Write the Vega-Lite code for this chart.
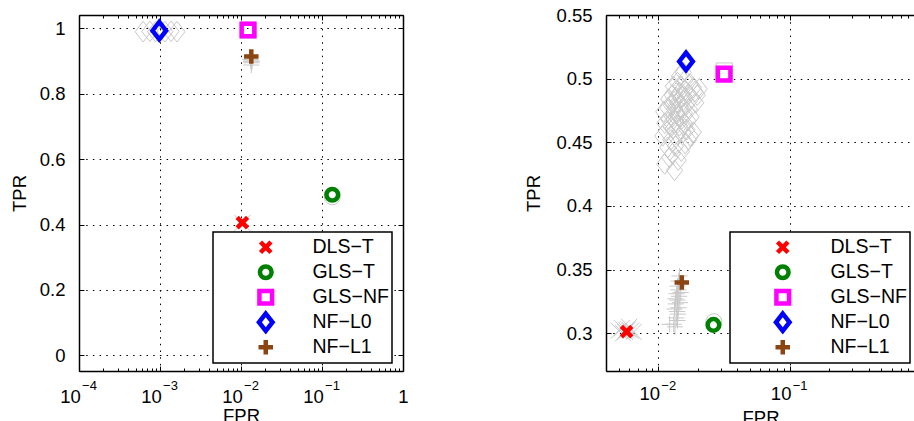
{
  "$schema": "https://vega.github.io/schema/vega-lite/v6.json",
  "padding": {"left": 10, "top": 6, "right": 0, "bottom": 0},
  "spacing": 115,
  "config": {
    "font": "Liberation Sans",
    "view": {"stroke": null},
    "axis": {
      "labelFont": "Liberation Sans", "titleFont": "Liberation Sans",
      "labelFontSize": 18.5, "titleFontSize": 18.5, "titleFontWeight": "normal",
      "labelColor": "black", "titleColor": "black",
      "domainColor": "black", "domainWidth": 1.5,
      "tickColor": "black", "tickWidth": 1,
      "gridColor": "black", "gridDash": [1.5, 5.2], "gridOpacity": 1, "gridWidth": 1,
      "labelFlush": false, "labelOverlap": false, "labelBound": false
    },
    "legend": {"strokeWidth": 1.5}
  },
  "resolve": {"scale": {"x": "independent", "y": "independent", "color": "independent", "shape": "independent", "size": "independent"}},
  "datasets": {
    "leftMain": [
      {"method": "DLS−T", "FPR": 0.0104, "TPR": 0.406},
      {"method": "GLS−T", "FPR": 0.134, "TPR": 0.491},
      {"method": "GLS−NF", "FPR": 0.0122, "TPR": 0.995},
      {"method": "NF−L0", "FPR": 0.00098, "TPR": 0.993},
      {"method": "NF−L1", "FPR": 0.0134, "TPR": 0.914}
    ],
    "leftGray": [
      {"method": "NF−L0", "FPR": 0.00062, "TPR": 0.99},
      {"method": "NF−L0", "FPR": 0.00075, "TPR": 0.991},
      {"method": "NF−L0", "FPR": 0.00088, "TPR": 0.99},
      {"method": "NF−L0", "FPR": 0.00115, "TPR": 0.99},
      {"method": "NF−L0", "FPR": 0.00137, "TPR": 0.991},
      {"method": "NF−L0", "FPR": 0.00162, "TPR": 0.99},
      {"method": "NF−L1", "FPR": 0.0133, "TPR": 0.9},
      {"method": "NF−L1", "FPR": 0.0135, "TPR": 0.895},
      {"method": "NF−L1", "FPR": 0.0131, "TPR": 0.905},
      {"method": "NF−L1", "FPR": 0.0137, "TPR": 0.9},
      {"method": "NF−L1", "FPR": 0.0134, "TPR": 0.888},
      {"method": "GLS−T", "FPR": 0.134, "TPR": 0.485},
      {"method": "GLS−NF", "FPR": 0.0123, "TPR": 0.995},
      {"method": "DLS−T", "FPR": 0.0104, "TPR": 0.405}
    ],
    "rightMain": [
      {"method": "DLS−T", "FPR": 0.00574, "TPR": 0.3013},
      {"method": "GLS−T", "FPR": 0.0263, "TPR": 0.3065},
      {"method": "GLS−NF", "FPR": 0.0317, "TPR": 0.5036},
      {"method": "NF−L0", "FPR": 0.01626, "TPR": 0.5135},
      {"method": "NF−L1", "FPR": 0.0151, "TPR": 0.3398}
    ],
    "rightGray": [
      {"method": "NF−L0", "FPR": 0.0112, "TPR": 0.433},
      {"method": "NF−L0", "FPR": 0.0122, "TPR": 0.438},
      {"method": "NF−L0", "FPR": 0.0133, "TPR": 0.428},
      {"method": "NF−L0", "FPR": 0.0128, "TPR": 0.441},
      {"method": "NF−L0", "FPR": 0.0142, "TPR": 0.436},
      {"method": "NF−L0", "FPR": 0.0118, "TPR": 0.446},
      {"method": "NF−L0", "FPR": 0.0135, "TPR": 0.447},
      {"method": "NF−L0", "FPR": 0.015, "TPR": 0.443},
      {"method": "NF−L0", "FPR": 0.016, "TPR": 0.449},
      {"method": "NF−L0", "FPR": 0.017, "TPR": 0.452},
      {"method": "NF−L0", "FPR": 0.0175, "TPR": 0.455},
      {"method": "NF−L0", "FPR": 0.0108, "TPR": 0.455},
      {"method": "NF−L0", "FPR": 0.0115, "TPR": 0.459},
      {"method": "NF−L0", "FPR": 0.0125, "TPR": 0.452},
      {"method": "NF−L0", "FPR": 0.013, "TPR": 0.461},
      {"method": "NF−L0", "FPR": 0.014, "TPR": 0.456},
      {"method": "NF−L0", "FPR": 0.0145, "TPR": 0.463},
      {"method": "NF−L0", "FPR": 0.0155, "TPR": 0.458},
      {"method": "NF−L0", "FPR": 0.0165, "TPR": 0.46},
      {"method": "NF−L0", "FPR": 0.0185, "TPR": 0.458},
      {"method": "NF−L0", "FPR": 0.0112, "TPR": 0.465},
      {"method": "NF−L0", "FPR": 0.012, "TPR": 0.468},
      {"method": "NF−L0", "FPR": 0.0128, "TPR": 0.47},
      {"method": "NF−L0", "FPR": 0.0136, "TPR": 0.466},
      {"method": "NF−L0", "FPR": 0.0143, "TPR": 0.471},
      {"method": "NF−L0", "FPR": 0.015, "TPR": 0.468},
      {"method": "NF−L0", "FPR": 0.0158, "TPR": 0.473},
      {"method": "NF−L0", "FPR": 0.0168, "TPR": 0.467},
      {"method": "NF−L0", "FPR": 0.0178, "TPR": 0.47},
      {"method": "NF−L0", "FPR": 0.011, "TPR": 0.474},
      {"method": "NF−L0", "FPR": 0.0118, "TPR": 0.477},
      {"method": "NF−L0", "FPR": 0.0126, "TPR": 0.479},
      {"method": "NF−L0", "FPR": 0.0133, "TPR": 0.476},
      {"method": "NF−L0", "FPR": 0.014, "TPR": 0.481},
      {"method": "NF−L0", "FPR": 0.0148, "TPR": 0.478},
      {"method": "NF−L0", "FPR": 0.0155, "TPR": 0.483},
      {"method": "NF−L0", "FPR": 0.0162, "TPR": 0.479},
      {"method": "NF−L0", "FPR": 0.0172, "TPR": 0.476},
      {"method": "NF−L0", "FPR": 0.012, "TPR": 0.484},
      {"method": "NF−L0", "FPR": 0.0128, "TPR": 0.487},
      {"method": "NF−L0", "FPR": 0.0137, "TPR": 0.485},
      {"method": "NF−L0", "FPR": 0.0145, "TPR": 0.489},
      {"method": "NF−L0", "FPR": 0.0152, "TPR": 0.486},
      {"method": "NF−L0", "FPR": 0.016, "TPR": 0.491},
      {"method": "NF−L0", "FPR": 0.017, "TPR": 0.488},
      {"method": "NF−L0", "FPR": 0.018, "TPR": 0.485},
      {"method": "NF−L0", "FPR": 0.019, "TPR": 0.49},
      {"method": "NF−L0", "FPR": 0.0198, "TPR": 0.487},
      {"method": "NF−L0", "FPR": 0.0205, "TPR": 0.492},
      {"method": "NF−L0", "FPR": 0.013, "TPR": 0.494},
      {"method": "NF−L0", "FPR": 0.014, "TPR": 0.497},
      {"method": "NF−L0", "FPR": 0.015, "TPR": 0.494},
      {"method": "NF−L0", "FPR": 0.016, "TPR": 0.499},
      {"method": "NF−L0", "FPR": 0.0175, "TPR": 0.496},
      {"method": "NF−L0", "FPR": 0.0185, "TPR": 0.493},
      {"method": "NF−L0", "FPR": 0.0145, "TPR": 0.502},
      {"method": "NF−L0", "FPR": 0.0155, "TPR": 0.505},
      {"method": "NF−L0", "FPR": 0.0135, "TPR": 0.49},
      {"method": "NF−L0", "FPR": 0.0125, "TPR": 0.462},
      {"method": "NF−L0", "FPR": 0.0138, "TPR": 0.472},
      {"method": "NF−L0", "FPR": 0.0147, "TPR": 0.475},
      {"method": "NF−L0", "FPR": 0.0132, "TPR": 0.482},
      {"method": "NF−L0", "FPR": 0.0158, "TPR": 0.465},
      {"method": "NF−L0", "FPR": 0.0193, "TPR": 0.481},
      {"method": "NF−L1", "FPR": 0.0145, "TPR": 0.345},
      {"method": "NF−L1", "FPR": 0.0143, "TPR": 0.341},
      {"method": "NF−L1", "FPR": 0.014, "TPR": 0.337},
      {"method": "NF−L1", "FPR": 0.0142, "TPR": 0.334},
      {"method": "NF−L1", "FPR": 0.0138, "TPR": 0.331},
      {"method": "NF−L1", "FPR": 0.0144, "TPR": 0.329},
      {"method": "NF−L1", "FPR": 0.014, "TPR": 0.326},
      {"method": "NF−L1", "FPR": 0.0136, "TPR": 0.323},
      {"method": "NF−L1", "FPR": 0.0142, "TPR": 0.32},
      {"method": "NF−L1", "FPR": 0.0139, "TPR": 0.317},
      {"method": "NF−L1", "FPR": 0.0141, "TPR": 0.315},
      {"method": "NF−L1", "FPR": 0.0137, "TPR": 0.312},
      {"method": "NF−L1", "FPR": 0.014, "TPR": 0.31},
      {"method": "NF−L1", "FPR": 0.0135, "TPR": 0.327},
      {"method": "NF−L1", "FPR": 0.0146, "TPR": 0.324},
      {"method": "NF−L1", "FPR": 0.0133, "TPR": 0.319},
      {"method": "NF−L1", "FPR": 0.0148, "TPR": 0.332},
      {"method": "NF−L1", "FPR": 0.0131, "TPR": 0.307},
      {"method": "NF−L1", "FPR": 0.0122, "TPR": 0.307},
      {"method": "NF−L1", "FPR": 0.0134, "TPR": 0.305},
      {"method": "DLS−T", "FPR": 0.005, "TPR": 0.302},
      {"method": "DLS−T", "FPR": 0.0053, "TPR": 0.304},
      {"method": "DLS−T", "FPR": 0.0056, "TPR": 0.301},
      {"method": "DLS−T", "FPR": 0.0059, "TPR": 0.303},
      {"method": "DLS−T", "FPR": 0.0062, "TPR": 0.302},
      {"method": "DLS−T", "FPR": 0.0065, "TPR": 0.301},
      {"method": "DLS−T", "FPR": 0.0054, "TPR": 0.3},
      {"method": "DLS−T", "FPR": 0.006, "TPR": 0.305},
      {"method": "DLS−T", "FPR": 0.0057, "TPR": 0.3025},
      {"method": "GLS−T", "FPR": 0.0265, "TPR": 0.309},
      {"method": "GLS−NF", "FPR": 0.0318, "TPR": 0.506}
    ]
  },
  "hconcat": [
    {
      "width": 324,
      "height": 356,
      "resolve": {"axis": {"x": "independent", "y": "independent"}},
      "layer": [
        {
          "data": {"name": "leftGray"},
          "mark": {"type": "point", "filled": false, "color": "#c8c8c8", "strokeWidth": 1, "size": 260, "opacity": 1},
          "encoding": {
            "x": {"field": "FPR", "type": "quantitative", "scale": {"type": "log", "domain": [0.0001, 1], "nice": false},
              "axis": {"orient": "bottom", "title": "FPR", "values": [0.0001, 0.001, 0.01, 0.1, 1],
                "labelExpr": "datum.value >= 0.5 ? '1' : '10'",
                "labelOffset": {"condition": {"test": "datum.value < 0.5", "value": -9}, "value": 0},
                "ticks": false, "domain": true, "grid": true, "labelPadding": 16, "titlePadding": 1}},
            "y": {"field": "TPR", "type": "quantitative", "scale": {"domain": [-0.048, 1.041], "nice": false, "zero": false},
              "axis": {"orient": "left", "title": "TPR", "values": [0, 0.2, 0.4, 0.6, 0.8, 1], "format": "~g",
                "ticks": false, "domain": true, "grid": true, "labelPadding": 14, "titlePadding": 10}},
            "shape": {"field": "method", "type": "nominal",
              "scale": {"domain": ["DLS−T", "GLS−T", "GLS−NF", "NF−L0", "NF−L1"], "range": ["M-1,-1L1,1M1,-1L-1,1", "circle", "square", "M0,-1.28L1,0L0,1.28L-1,0Z", "M-1,0L1,0M0,-1L0,1"]}}
          }
        },
        {
          "data": {"name": "leftMain"},
          "mark": {"type": "point", "filled": false, "strokeWidth": 4.5, "opacity": 1},
          "encoding": {
            "x": {"field": "FPR", "type": "quantitative", "scale": {"type": "log", "domain": [0.0001, 1], "nice": false},
              "axis": {"orient": "top", "title": null, "labels": false, "grid": false, "domain": true,
                "values": [0.0001, 0.0002, 0.0003, 0.0004, 0.0005, 0.0006, 0.0007, 0.0008, 0.0009, 0.001, 0.002, 0.003, 0.004, 0.005, 0.006, 0.007, 0.008, 0.009, 0.01, 0.02, 0.03, 0.04, 0.05, 0.06, 0.07, 0.08, 0.09, 0.1, 0.2, 0.3, 0.4, 0.5, 0.6, 0.7, 0.8, 0.9, 1],
                "tickSize": {"condition": {"test": "abs(log(datum.value)/LN10 - round(log(datum.value)/LN10)) < 0.001", "value": -5}, "value": -3}}},
            "y": {"field": "TPR", "type": "quantitative", "scale": {"domain": [-0.048, 1.041], "nice": false, "zero": false},
              "axis": {"orient": "right", "title": null, "labels": false, "grid": false, "domain": true, "values": [0, 0.2, 0.4, 0.6, 0.8, 1], "tickSize": -5}},
            "color": {"field": "method", "type": "nominal",
              "scale": {"domain": ["DLS−T", "GLS−T", "GLS−NF", "NF−L0", "NF−L1"], "range": ["#ff0000", "#008000", "#ff00ff", "#0000ff", "#8b4513"]},
              "legend": {"orient": "none", "legendX": 134, "legendY": 217, "title": null, "fillColor": "white", "strokeColor": "black",
                "padding": 3, "symbolOffset": 40, "labelOffset": 37, "labelFontSize": 19.5, "labelFont": "Liberation Sans", "labelColor": "black",
                "symbolStrokeWidth": 4.5, "rowPadding": 0, "clipHeight": 24.5, "gridAlign": "all", "labelLimit": 0}},
            "shape": {"field": "method", "type": "nominal",
              "scale": {"domain": ["DLS−T", "GLS−T", "GLS−NF", "NF−L0", "NF−L1"], "range": ["M-1,-1L1,1M1,-1L-1,1", "circle", "square", "M0,-1.28L1,0L0,1.28L-1,0Z", "M-1,0L1,0M0,-1L0,1"]}},
            "size": {"field": "method", "type": "nominal",
              "scale": {"domain": ["DLS−T", "GLS−T", "GLS−NF", "NF−L0", "NF−L1"], "range": [110, 210, 150, 265, 200]}}
          }
        },
        {
          "data": {"name": "leftMain"},
          "mark": {"type": "point", "opacity": 0},
          "encoding": {
            "x": {"field": "FPR", "type": "quantitative", "scale": {"type": "log", "domain": [0.0001, 1], "nice": false},
              "axis": {"orient": "bottom", "title": null, "labels": false, "grid": false, "domain": false,
                "values": [0.0001, 0.0002, 0.0003, 0.0004, 0.0005, 0.0006, 0.0007, 0.0008, 0.0009, 0.001, 0.002, 0.003, 0.004, 0.005, 0.006, 0.007, 0.008, 0.009, 0.01, 0.02, 0.03, 0.04, 0.05, 0.06, 0.07, 0.08, 0.09, 0.1, 0.2, 0.3, 0.4, 0.5, 0.6, 0.7, 0.8, 0.9, 1],
                "tickSize": {"condition": {"test": "abs(log(datum.value)/LN10 - round(log(datum.value)/LN10)) < 0.001", "value": -5}, "value": -3}}},
            "y": {"field": "TPR", "type": "quantitative", "scale": {"domain": [-0.048, 1.041], "nice": false, "zero": false},
              "axis": {"orient": "left", "title": null, "labels": false, "grid": false, "domain": false, "values": [0, 0.2, 0.4, 0.6, 0.8, 1], "tickSize": -5}}
          }
        },
        {
          "data": {"name": "leftMain"},
          "mark": {"type": "point", "opacity": 0},
          "encoding": {
            "x": {"field": "FPR", "type": "quantitative", "scale": {"type": "log", "domain": [0.0001, 1], "nice": false},
              "axis": {"orient": "bottom", "title": null, "ticks": false, "grid": false, "domain": false,
                "values": [0.0001, 0.001, 0.01, 0.1],
                "labelExpr": "datum.value >= 0.05 ? '−1' : datum.value >= 0.005 ? '−2' : datum.value >= 0.0005 ? '−3' : '−4'",
                "labelFontSize": 13, "labelOffset": 10, "labelPadding": 8}},
            "y": {"field": "TPR", "type": "quantitative", "scale": {"domain": [-0.048, 1.041], "nice": false, "zero": false}, "axis": null}
          }
        }
      ]
    },
    {
      "width": 309,
      "height": 356,
      "resolve": {"axis": {"x": "independent", "y": "independent"}},
      "layer": [
        {
          "data": {"name": "rightGray"},
          "mark": {"type": "point", "filled": false, "color": "#c8c8c8", "strokeWidth": 1, "size": 260, "opacity": 1},
          "encoding": {
            "x": {"field": "FPR", "type": "quantitative", "scale": {"type": "log", "domain": [0.004, 0.9], "nice": false},
              "axis": {"orient": "bottom", "title": "FPR", "values": [0.01, 0.1],
                "labelExpr": "'10'", "labelOffset": -9,
                "ticks": false, "domain": true, "grid": true, "labelPadding": 13, "titlePadding": 6}},
            "y": {"field": "TPR", "type": "quantitative", "scale": {"domain": [0.2703, 0.55], "nice": false, "zero": false},
              "axis": {"orient": "left", "title": "TPR", "values": [0.3, 0.35, 0.4, 0.45, 0.5, 0.55], "format": "~g",
                "ticks": false, "domain": true, "grid": true, "labelPadding": 14, "titlePadding": 12}},
            "shape": {"field": "method", "type": "nominal",
              "scale": {"domain": ["DLS−T", "GLS−T", "GLS−NF", "NF−L0", "NF−L1"], "range": ["M-1,-1L1,1M1,-1L-1,1", "circle", "square", "M0,-1.28L1,0L0,1.28L-1,0Z", "M-1,0L1,0M0,-1L0,1"]}}
          }
        },
        {
          "data": {"name": "rightMain"},
          "mark": {"type": "point", "filled": false, "strokeWidth": 4.5, "opacity": 1},
          "encoding": {
            "x": {"field": "FPR", "type": "quantitative", "scale": {"type": "log", "domain": [0.004, 0.9], "nice": false},
              "axis": {"orient": "top", "title": null, "labels": false, "grid": false, "domain": true,
                "values": [0.004, 0.005, 0.006, 0.007, 0.008, 0.009, 0.01, 0.02, 0.03, 0.04, 0.05, 0.06, 0.07, 0.08, 0.09, 0.1, 0.2, 0.3, 0.4, 0.5, 0.6, 0.7, 0.8],
                "tickSize": {"condition": {"test": "abs(log(datum.value)/LN10 - round(log(datum.value)/LN10)) < 0.001", "value": -5}, "value": -3}}},
            "y": {"field": "TPR", "type": "quantitative", "scale": {"domain": [0.2703, 0.55], "nice": false, "zero": false}, "axis": null},
            "color": {"field": "method", "type": "nominal",
              "scale": {"domain": ["DLS−T", "GLS−T", "GLS−NF", "NF−L0", "NF−L1"], "range": ["#ff0000", "#008000", "#ff00ff", "#0000ff", "#8b4513"]},
              "legend": {"orient": "none", "legendX": 124, "legendY": 217, "title": null, "fillColor": "white", "strokeColor": "black",
                "padding": 3, "symbolOffset": 40, "labelOffset": 38, "labelFontSize": 19.5, "labelFont": "Liberation Sans", "labelColor": "black",
                "symbolStrokeWidth": 4.5, "rowPadding": 0, "clipHeight": 24.5, "gridAlign": "all", "labelLimit": 0}},
            "shape": {"field": "method", "type": "nominal",
              "scale": {"domain": ["DLS−T", "GLS−T", "GLS−NF", "NF−L0", "NF−L1"], "range": ["M-1,-1L1,1M1,-1L-1,1", "circle", "square", "M0,-1.28L1,0L0,1.28L-1,0Z", "M-1,0L1,0M0,-1L0,1"]}},
            "size": {"field": "method", "type": "nominal",
              "scale": {"domain": ["DLS−T", "GLS−T", "GLS−NF", "NF−L0", "NF−L1"], "range": [110, 210, 150, 265, 200]}}
          }
        },
        {
          "data": {"name": "rightMain"},
          "mark": {"type": "point", "opacity": 0},
          "encoding": {
            "x": {"field": "FPR", "type": "quantitative", "scale": {"type": "log", "domain": [0.004, 0.9], "nice": false},
              "axis": {"orient": "bottom", "title": null, "labels": false, "grid": false, "domain": false,
                "values": [0.004, 0.005, 0.006, 0.007, 0.008, 0.009, 0.01, 0.02, 0.03, 0.04, 0.05, 0.06, 0.07, 0.08, 0.09, 0.1, 0.2, 0.3, 0.4, 0.5, 0.6, 0.7, 0.8],
                "tickSize": {"condition": {"test": "abs(log(datum.value)/LN10 - round(log(datum.value)/LN10)) < 0.001", "value": -5}, "value": -3}}},
            "y": {"field": "TPR", "type": "quantitative", "scale": {"domain": [0.2703, 0.55], "nice": false, "zero": false},
              "axis": {"orient": "left", "title": null, "labels": false, "grid": false, "domain": false, "values": [0.3, 0.35, 0.4, 0.45, 0.5, 0.55], "tickSize": -5}}
          }
        },
        {
          "data": {"name": "rightMain"},
          "mark": {"type": "point", "opacity": 0},
          "encoding": {
            "x": {"field": "FPR", "type": "quantitative", "scale": {"type": "log", "domain": [0.004, 0.9], "nice": false},
              "axis": {"orient": "bottom", "title": null, "ticks": false, "grid": false, "domain": false,
                "values": [0.01, 0.1],
                "labelExpr": "datum.value >= 0.05 ? '−1' : '−2'",
                "labelFontSize": 13, "labelOffset": 10, "labelPadding": 8}},
            "y": {"field": "TPR", "type": "quantitative", "scale": {"domain": [0.2703, 0.55], "nice": false, "zero": false}, "axis": null}
          }
        }
      ]
    }
  ]
}
